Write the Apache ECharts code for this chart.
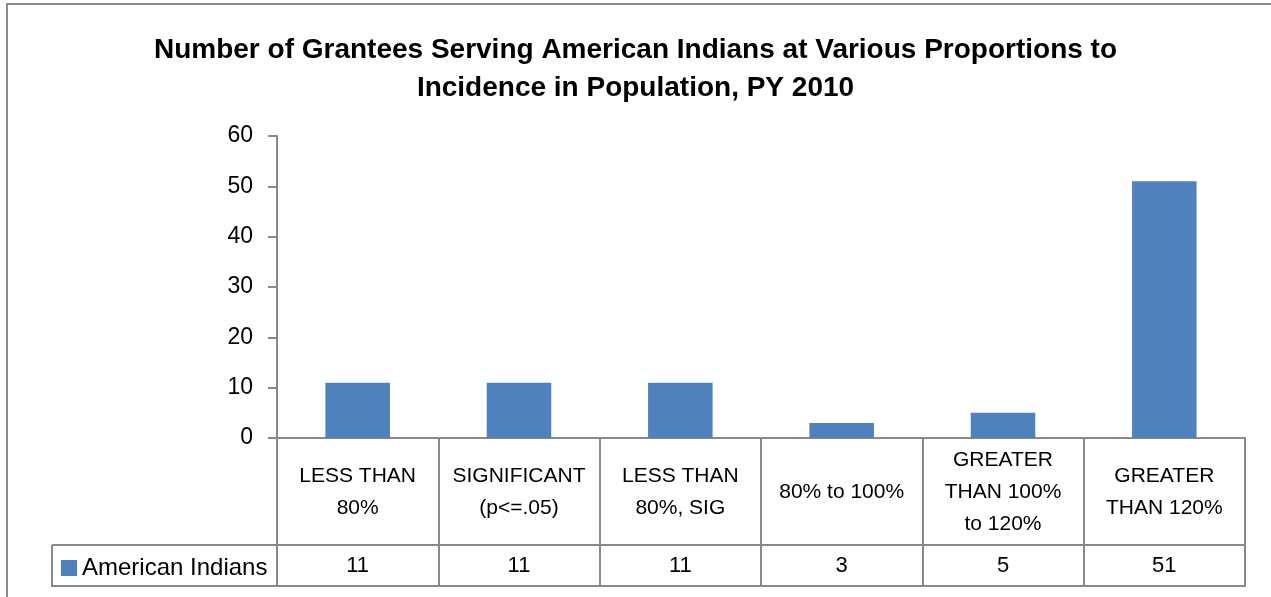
<!DOCTYPE html>
<html>
<head>
<meta charset="utf-8">
<script src="https://cdn.jsdelivr.net/npm/echarts@6/dist/echarts.min.js"></script>
<style>
  html, body { margin: 0; padding: 0; background: #fff; }
  #chart { width: 1271px; height: 597px; }
</style>
</head>
<body>
<div id="chart"></div>
<script>
// data
const categories = [
    'LESS THAN\n80%',
    'SIGNIFICANT\n(p<=.05)',
    'LESS THAN\n80%, SIG',
    '80% to 100%',
    'GREATER\nTHAN 100%\nto 120%',
    'GREATER\nTHAN 120%'
];
const seriesName = 'American Indians';
const values = [11, 11, 11, 3, 5, 51];
const yTicks = { min: 0, max: 60, interval: 10 };

const FONT = 'Liberation Sans';
const GRID_COLOR = '#898989';

let chart = echarts.init(document.getElementById('chart'), null, { renderer: 'canvas' });

let option = {
    animation: false,
    backgroundColor: '#fff',
    title: {
        text: 'Number of Grantees Serving American Indians at Various Proportions to\nIncidence in Population, PY 2010',
        left: 'center',
        top: 26,
        textStyle: {
            fontFamily: FONT,
            fontSize: 28,
            fontWeight: 'bold',
            color: '#000',
            lineHeight: 38
        }
    },
    legend: {
        left: 56,
        top: 551,
        padding: 5,
        icon: 'rect',
        itemWidth: 16,
        itemHeight: 16,
        selectedMode: false,
        textStyle: { fontFamily: FONT, fontSize: 24, color: '#000' },
        data: [seriesName]
    },
    grid: {
        left: 277,
        right: 26,
        top: 136,
        bottom: 159,
        containLabel: false
    },
    xAxis: [
        {
            type: 'category',
            data: categories,
            axisLine: { lineStyle: { color: GRID_COLOR, width: 2 } },
            axisTick: {
                show: true,
                interval: 0,
                length: 149,
                lineStyle: { color: GRID_COLOR, width: 2 }
            },
            axisLabel: {
                interval: 0,
                margin: 54,
                verticalAlign: 'middle',
                fontFamily: FONT,
                fontSize: 21,
                lineHeight: 32,
                color: '#000'
            }
        },
        {
            // values row of the data table
            type: 'category',
            position: 'bottom',
            data: categories,
            axisLine: { show: false },
            axisTick: { show: false },
            axisLabel: {
                interval: 0,
                margin: 128,
                verticalAlign: 'middle',
                fontFamily: FONT,
                fontSize: 22,
                color: '#000',
                formatter: function (v, i) { return String(values[i]); }
            }
        }
    ],
    yAxis: {
        type: 'value',
        min: yTicks.min,
        max: yTicks.max,
        interval: yTicks.interval,
        axisLine: { show: true, lineStyle: { color: GRID_COLOR, width: 2 } },
        axisTick: { show: true, length: 9, lineStyle: { color: GRID_COLOR, width: 2 } },
        splitLine: { show: false },
        axisLabel: {
            margin: 24,
            fontFamily: FONT,
            fontSize: 23,
            color: '#000'
        }
    },
    series: [
        {
            name: seriesName,
            type: 'bar',
            data: values,
            barWidth: '40%',
            itemStyle: { color: '#4F81BD' }
        }
    ],
    graphic: [
        // outer chart border
        {
            type: 'rect',
            shape: { x: 7, y: 4, width: 1400, height: 800 },
            style: { fill: null, stroke: '#8c8c8c', lineWidth: 2 },
            silent: true
        },
        // data table: horizontal lines and left edge of the legend cell
        {
            type: 'line',
            shape: { x1: 52, y1: 545, x2: 1245, y2: 545 },
            style: { stroke: GRID_COLOR, lineWidth: 2 },
            silent: true
        },
        {
            type: 'line',
            shape: { x1: 52, y1: 586, x2: 1245, y2: 586 },
            style: { stroke: GRID_COLOR, lineWidth: 2 },
            silent: true
        },
        {
            type: 'line',
            shape: { x1: 52, y1: 545, x2: 52, y2: 587 },
            style: { stroke: GRID_COLOR, lineWidth: 2 },
            silent: true
        }
    ]
};

chart.setOption(option, true);
</script>
</body>
</html>
